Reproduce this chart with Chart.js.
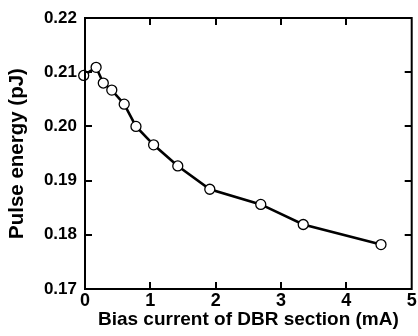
<!DOCTYPE html>
<html><head><meta charset="utf-8">
<script src="https://cdn.jsdelivr.net/npm/chart.js@4"></script>
<style>html,body{margin:0;padding:0;background:#fff}#c{display:block}</style>
</head><body>
<canvas id="c" width="418" height="336"></canvas>
<script>
const biasCurrent = [-0.02, 0.17, 0.28, 0.41, 0.60, 0.78, 1.05, 1.42, 1.91, 2.69, 3.34, 4.53];
const pulseEnergy = [0.2094, 0.2109, 0.2080, 0.2067, 0.2041, 0.2000, 0.1966, 0.1927, 0.1884, 0.1856, 0.1819, 0.1782];
const xTicks = [0, 1, 2, 3, 4, 5];
const yTicks = [0.17, 0.18, 0.19, 0.20, 0.21, 0.22];
const xTitle = 'Bias current of DBR section (mA)';
const yTitle = 'Pulse energy (pJ)';

const FONT = 'Liberation Sans, Arial, Helvetica, sans-serif';

const frame = {
  id: 'frame',
  afterDraw(chart) {
    const ctx = chart.ctx, a = chart.chartArea;
    const xs = chart.scales.x, ys = chart.scales.y;
    ctx.save();
    ctx.strokeStyle = '#000';
    ctx.lineWidth = 2;
    ctx.strokeRect(a.left, a.top, a.right - a.left, a.bottom - a.top);
    const L = 7;
    ctx.beginPath();
    xTicks.forEach((v, i) => {
      if (i === 0 || i === xTicks.length - 1) return;
      const px = Math.round(xs.getPixelForValue(v));
      ctx.moveTo(px, a.bottom); ctx.lineTo(px, a.bottom - L);
      ctx.moveTo(px, a.top); ctx.lineTo(px, a.top + L);
    });
    yTicks.forEach((v, i) => {
      if (i === 0 || i === yTicks.length - 1) return;
      const py = Math.round(ys.getPixelForValue(v));
      ctx.moveTo(a.left, py); ctx.lineTo(a.left + L, py);
      ctx.moveTo(a.right, py); ctx.lineTo(a.right - L, py);
    });
    ctx.stroke();
    ctx.restore();
  }
};

new Chart(document.getElementById('c'), {
  type: 'scatter',
  data: {
    datasets: [{
      data: biasCurrent.map((x, i) => ({x, y: pulseEnergy[i]})),
      showLine: true,
      borderColor: '#000',
      borderWidth: 2.6,
      pointRadius: 5,
      pointBorderWidth: 1.3,
      pointBackgroundColor: '#fff',
      pointBorderColor: '#000',
      clip: false
    }]
  },
  options: {
    responsive: false,
    animation: false,
    devicePixelRatio: 1,
    layout: {padding: {left: 0, right: 4, top: 18, bottom: 0}},
    plugins: {legend: {display: false}, tooltip: {enabled: false}},
    scales: {
      x: {
        type: 'linear', min: 0, max: 5,
        afterBuildTicks(s) { s.ticks = xTicks.map(v => ({value: v})); },
        ticks: {color: '#000', font: {family: FONT, size: 18, weight: 'bold'}, padding: 1, maxRotation: 0},
        grid: {display: false, drawTicks: false},
        border: {display: false},
        title: {display: true, text: xTitle, color: '#000', font: {family: FONT, size: 19, weight: 'bold'}, padding: {top: 0, bottom: 5}},
        afterFit(s) { s.paddingLeft = 0; s.paddingRight = 0; s.height = 47; }
      },
      y: {
        type: 'linear', min: 0.17, max: 0.22,
        afterBuildTicks(s) { s.ticks = yTicks.map(v => ({value: v})); },
        ticks: {color: '#000', font: {family: FONT, size: 17, weight: 'bold'}, padding: 8,
          callback: v => v.toFixed(2)},
        grid: {display: false, drawTicks: false},
        border: {display: false},
        title: {display: true, text: yTitle, color: '#000', font: {family: FONT, size: 20.5, weight: 'bold'}, padding: {top: 5, bottom: 0}},
        afterFit(s) { s.paddingTop = 0; s.paddingBottom = 0; s.width = 85; }
      }
    }
  },
  plugins: [frame]
});
</script>
</body></html>
